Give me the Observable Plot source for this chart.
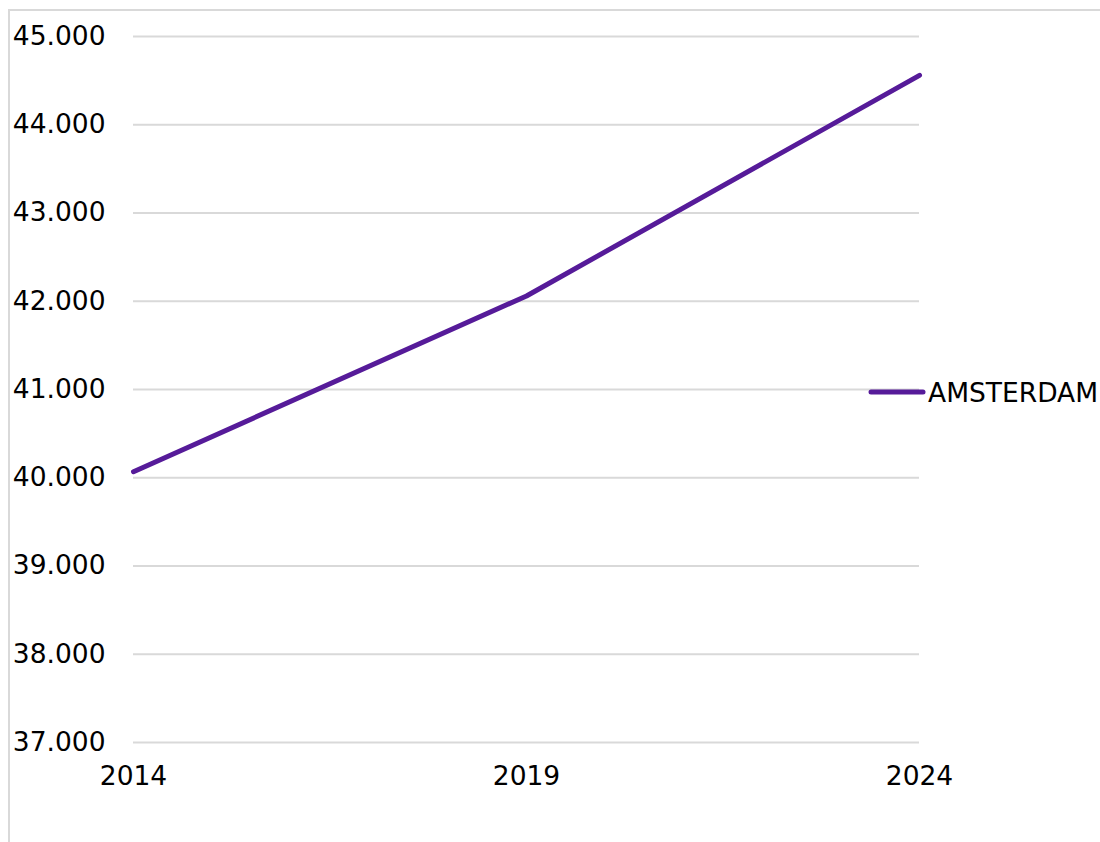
<!DOCTYPE html>
<html>
<head>
<meta charset="utf-8">
<script src="https://cdn.jsdelivr.net/npm/d3@7"></script>
<script src="https://cdn.jsdelivr.net/npm/@observablehq/plot@0.6"></script>
<style>
  html, body { margin: 0; padding: 0; background: #fff; }
  #chart { position: relative; width: 1100px; height: 842px; overflow: hidden; }
</style>
</head>
<body>
<div id="chart"></div>
<script>
const years = [2014, 2019, 2024];
const amsterdam = [40068, 42060, 44560];
const seriesName = "AMSTERDAM";
const yTicks = [37000, 38000, 39000, 40000, 41000, 42000, 43000, 44000, 45000];
const xTicks = [2014, 2019, 2024];

const lineColor = "#561b99";
const gridColor = "#d9d9d9";
const fontFamily = "'DejaVu Sans', Verdana, sans-serif";
const fs = 26.5;

const data = years.map((y, i) => ({year: y, value: amsterdam[i], series: seriesName}));
const nl = d3.formatLocale({decimal: ",", thousands: ".", grouping: [3], currency: ["€", ""]});
const fmt = nl.format(",");

const plot = Plot.plot({
  width: 1100,
  height: 842,
  marginLeft: 133,
  marginRight: 181,
  marginTop: 36,
  marginBottom: 100,
  style: {fontFamily, fontSize: fs + "px", color: "#000", background: "transparent"},
  x: {domain: [2014, 2024], ticks: xTicks, tickFormat: d => String(d), label: null},
  y: {domain: [37000, 45000], ticks: yTicks, tickFormat: fmt, label: null},
  marks: [
    Plot.gridY(yTicks, {stroke: gridColor, strokeOpacity: 1, strokeWidth: 2}),
    Plot.axisY({ticks: yTicks, tickFormat: fmt, tickSize: 0, tickPadding: 28, label: null, fontSize: fs}),
    Plot.axisX({ticks: xTicks, tickFormat: d => String(d), tickSize: 0, tickPadding: 24, label: null, fontSize: fs}),
    Plot.line(data, {x: "year", y: "value", stroke: lineColor, strokeWidth: 5, strokeLinecap: "round", strokeLinejoin: "round"})
  ]
});

const container = document.getElementById("chart");
container.appendChild(plot);

// chart-area frame (top and left edges visible)
const svg = d3.select(plot);
svg.insert("rect", ":first-child")
  .attr("x", 9).attr("y", 10)
  .attr("width", 1200).attr("height", 1000)
  .attr("fill", "none").attr("stroke", gridColor).attr("stroke-width", 2);

// legend
const lg = svg.append("g").attr("transform", "translate(871,392)");
lg.append("line").attr("x1", 0).attr("x2", 52).attr("y1", 0).attr("y2", 0)
  .attr("stroke", lineColor).attr("stroke-width", 5).attr("stroke-linecap", "round");
lg.append("text").attr("x", 57).attr("y", 0).attr("dy", "0.36em")
  .attr("text-anchor", "start")
  .attr("font-family", fontFamily).attr("font-size", fs).attr("fill", "#000")
  .text(seriesName);
</script>
</body>
</html>
